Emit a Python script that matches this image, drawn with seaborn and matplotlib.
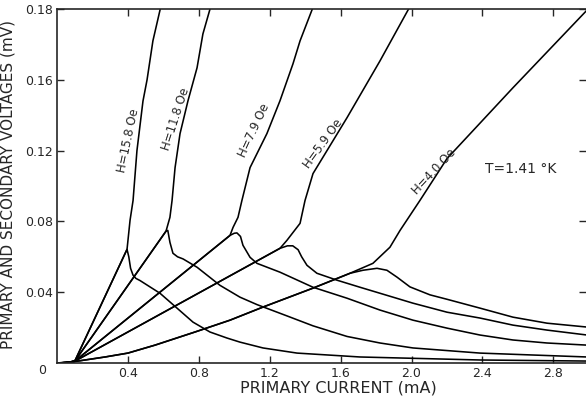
import pandas as pd
import matplotlib
matplotlib.use("Agg")
import matplotlib.pyplot as plt
import seaborn as sns

# primary / secondary voltage (mV) against primary current (mA)
# each branch starts with the shared rising part below the critical current

h158_prim_i = [0, 0.05, 0.10, 0.395, 0.400, 0.412, 0.429, 0.451, 0.485, 0.508, 0.541, 0.587]
h158_prim_v = [0, 0.0002, 0.001, 0.0642, 0.0690, 0.0806, 0.0918, 0.1200, 0.1480, 0.1600, 0.1820, 0.2020]
h158_sec_i = [0, 0.05, 0.10, 0.395, 0.405, 0.415, 0.429, 0.445, 0.468, 0.581, 0.677, 0.767, 0.863, 0.959,
              1.032, 1.162, 1.354, 1.709, 2.386, 2.99]
h158_sec_v = [0, 0.0002, 0.001, 0.0642, 0.0600, 0.0535, 0.0496, 0.0478, 0.0466, 0.0394, 0.0310, 0.0231,
              0.0175, 0.0141, 0.0118, 0.0085, 0.0056, 0.0034, 0.0017, 0.0011]

h118_prim_i = [0, 0.05, 0.10, 0.615, 0.637, 0.649, 0.666, 0.694, 0.739, 0.790, 0.823, 0.866]
h118_prim_v = [0, 0.0002, 0.001, 0.0745, 0.0823, 0.0918, 0.1104, 0.1296, 0.1482, 0.1668, 0.1859, 0.2010]
h118_sec_i = [0, 0.05, 0.10, 0.615, 0.625, 0.637, 0.654, 0.680, 0.711, 0.790, 0.919, 1.032, 1.128,
              1.300, 1.444, 1.636, 1.822, 2.008, 2.386, 2.99]
h118_sec_v = [0, 0.0002, 0.001, 0.0745, 0.0749, 0.0682, 0.0620, 0.0600, 0.0588, 0.0541, 0.0439, 0.0372,
              0.0330, 0.0265, 0.0210, 0.0150, 0.0113, 0.0085, 0.0056, 0.0034]

h79_prim_i = [0, 0.05, 0.10, 0.976, 0.993, 1.021, 1.043, 1.089, 1.184, 1.258, 1.331, 1.371, 1.438, 1.450]
h79_prim_v = [0, 0.0002, 0.001, 0.0721, 0.0766, 0.0823, 0.0918, 0.1104, 0.1296, 0.1482, 0.1690, 0.1820,
              0.1994, 0.2028]
h79_sec_i = [0, 0.05, 0.10, 0.976, 1.000, 1.015, 1.035, 1.049, 1.089, 1.128, 1.258, 1.444, 1.636, 1.822,
             2.008, 2.200, 2.386, 2.572, 2.764, 2.99]
h79_sec_v = [0, 0.0002, 0.001, 0.0721, 0.0733, 0.0735, 0.0715, 0.0665, 0.0597, 0.0563, 0.0513, 0.0428,
             0.0366, 0.0299, 0.0242, 0.0197, 0.0158, 0.0130, 0.0113, 0.0101]

h59_prim_i = [0, 0.05, 0.10, 1.258, 1.297, 1.371, 1.399, 1.444, 1.636, 1.822, 1.980, 1.990]
h59_prim_v = [0, 0.0002, 0.001, 0.0648, 0.0693, 0.0789, 0.0918, 0.1070, 0.1386, 0.1707, 0.1994, 0.2010]
h59_sec_i = [0, 0.05, 0.10, 1.258, 1.300, 1.330, 1.360, 1.380, 1.410, 1.466, 1.579, 1.709, 1.822,
             2.008, 2.200, 2.386, 2.572, 2.764, 2.99]
h59_sec_v = [0, 0.0002, 0.001, 0.0648, 0.0662, 0.0662, 0.0640, 0.0600, 0.0552, 0.0507, 0.0468, 0.0428,
             0.0394, 0.0338, 0.0287, 0.0254, 0.0214, 0.0186, 0.0158]

h40_prim_i = [0, 0.085, 0.271, 0.400, 0.553, 0.778, 0.976, 1.162, 1.444, 1.653, 1.782, 1.878, 1.935,
              2.047, 2.200, 2.572, 2.99]
h40_prim_v = [0, 0.0006, 0.0034, 0.0056, 0.0101, 0.0175, 0.0242, 0.0316, 0.0423, 0.0507, 0.0563, 0.0654,
              0.0749, 0.0918, 0.1155, 0.1555, 0.1994]
h40_sec_i = [0, 0.085, 0.271, 0.400, 0.553, 0.778, 0.976, 1.162, 1.444, 1.653, 1.726, 1.805, 1.861,
             1.918, 1.991, 2.104, 2.200, 2.386, 2.572, 2.764, 2.99]
h40_sec_v = [0, 0.0006, 0.0034, 0.0056, 0.0101, 0.0175, 0.0242, 0.0316, 0.0423, 0.0507, 0.0524, 0.0535,
             0.0524, 0.0485, 0.0430, 0.0385, 0.0360, 0.0310, 0.0259, 0.0225, 0.0203]

field_labels = ["H=15.8 Oe", "H=11.8 Oe", "H=7.9 Oe", "H=5.9 Oe", "H=4.0 Oe"]
label_i = [0.400, 0.672, 1.112, 1.503, 2.128]
label_v = [0.1256, 0.138, 0.1312, 0.1239, 0.1082]
label_rot = [78, 72, 65, 54, 47]

x_ticks = [0.4, 0.8, 1.2, 1.6, 2.0, 2.4, 2.8]
x_tick_labels = ["0.4", "0.8", "1.2", "1.6", "2.0", "2.4", "2.8"]
y_ticks = [0.04, 0.08, 0.12, 0.16, 0.20]
y_tick_labels = ["0.04", "0.08", "0.12", "0.16", "0.18"]

# long table, one unit per drawn branch
branches = [
    ("15.8 primary", h158_prim_i, h158_prim_v), ("15.8 secondary", h158_sec_i, h158_sec_v),
    ("11.8 primary", h118_prim_i, h118_prim_v), ("11.8 secondary", h118_sec_i, h118_sec_v),
    ("7.9 primary", h79_prim_i, h79_prim_v), ("7.9 secondary", h79_sec_i, h79_sec_v),
    ("5.9 primary", h59_prim_i, h59_prim_v), ("5.9 secondary", h59_sec_i, h59_sec_v),
    ("4.0 primary", h40_prim_i, h40_prim_v), ("4.0 secondary", h40_sec_i, h40_sec_v),
]
rows = []
for name, cur, volt in branches:
    for a, b in zip(cur, volt):
        rows.append({"curve": name, "current": a, "voltage": b})
df = pd.DataFrame(rows)

sns.set_style("ticks")
plt.rcParams["font.family"] = ["DejaVu Sans"]

fig = plt.figure(figsize=(5.86, 4.0), dpi=100)
ax = fig.add_axes([57 / 586, 37 / 400, 529 / 586, 354 / 400])

sns.lineplot(data=df, x="current", y="voltage", units="curve", estimator=None, sort=False,
             color="black", linewidth=1.15, legend=False, ax=ax)

ax.set_xlim(0, 2.984)
ax.set_ylim(0, 0.2)
ax.set_xticks(x_ticks)
ax.set_xticklabels(x_tick_labels, fontsize=9)
ax.set_yticks(y_ticks)
ax.set_yticklabels(y_tick_labels, fontsize=9)
ax.tick_params(direction="in", top=True, right=True, length=5, width=1, pad=3)
for s in ["left", "bottom", "top"]:
    ax.spines[s].set_linewidth(1.2)
ax.spines["right"].set_visible(False)

ax.set_xlabel("PRIMARY CURRENT (mA)", fontsize=11.5)
ax.set_ylabel("PRIMARY AND SECONDARY VOLTAGES (mV)", fontsize=11)
ax.xaxis.set_label_coords(0.531, -0.05)
ax.yaxis.set_label_coords(-0.078, 0.505)

ax.text(-0.028, -0.022, "0", transform=ax.transAxes, ha="center", va="center", fontsize=9)

for lab, xi, yi, r in zip(field_labels, label_i, label_v, label_rot):
    ax.text(xi, yi, lab, rotation=r, rotation_mode="anchor", ha="center", va="center", fontsize=8.5)

ax.text(2.617, 0.1098, "T=1.41 °K", ha="center", va="center", fontsize=10)

fig.savefig("out.png", dpi=100)
